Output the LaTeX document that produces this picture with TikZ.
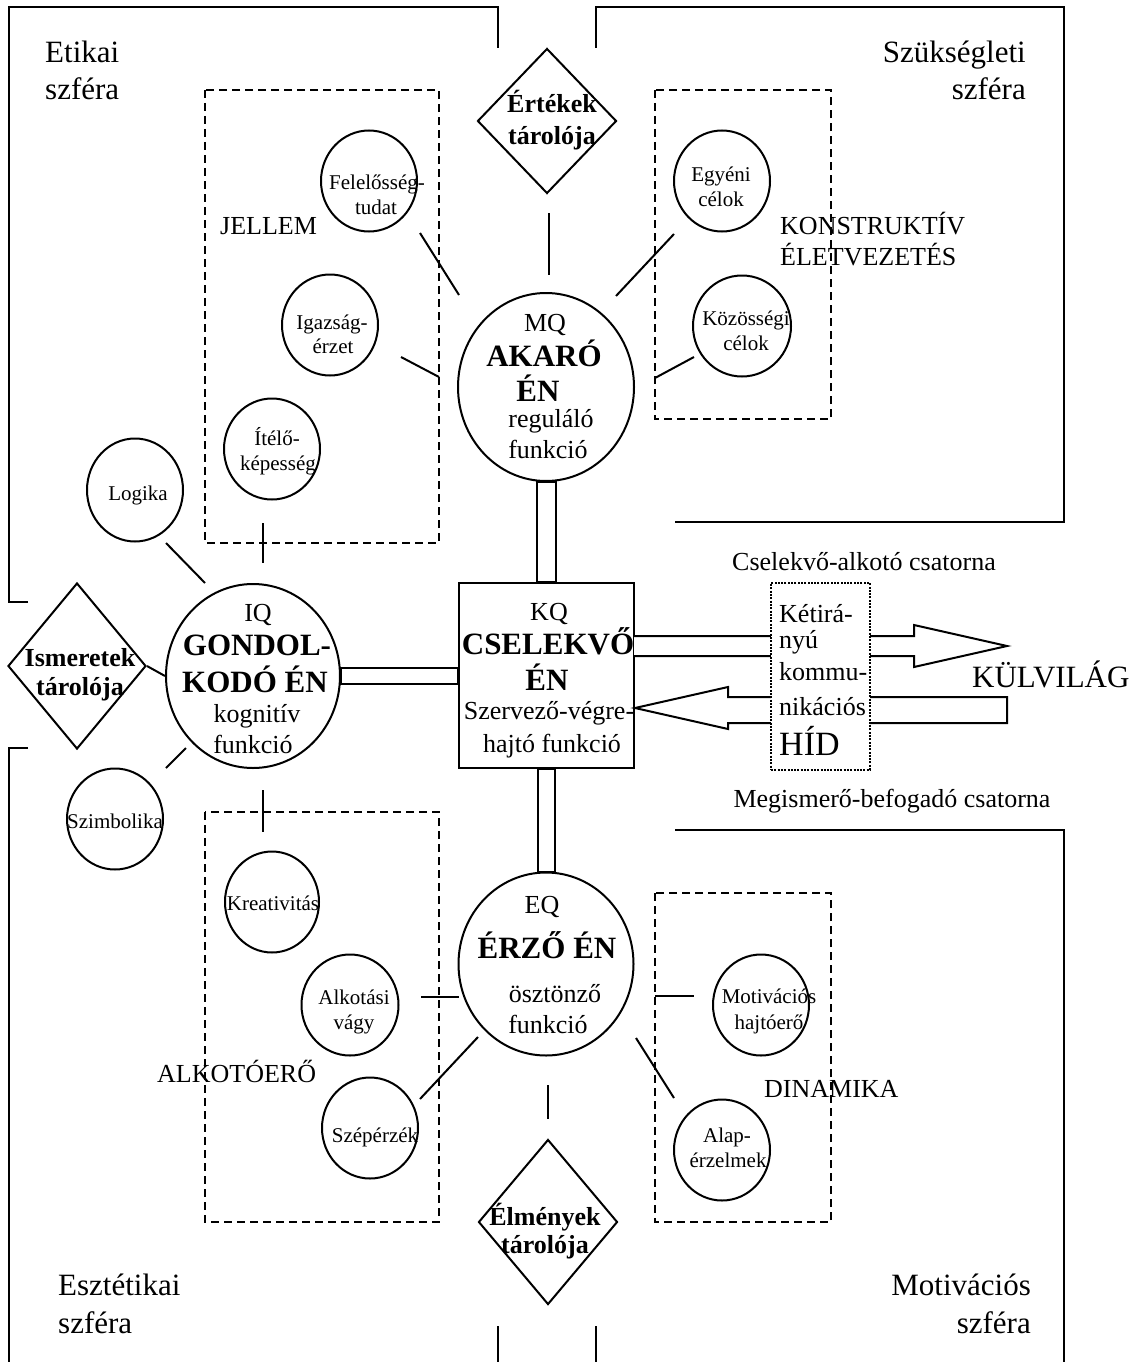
\documentclass[tikz,border=0pt]{standalone}
\usepackage{fontspec}
\setmainfont{Liberation Serif}
\usetikzlibrary{shapes.geometric,calc}
\begin{document}
\begin{tikzpicture}[x=1pt,y=-1pt,
  ln/.style={line width=2pt},
  fr/.style={line width=2.2pt},
  dbox/.style={line width=1.8pt, dash pattern=on 8pt off 5pt},
  bigc/.style={ellipse, draw, line width=2pt, inner sep=0pt},
  smc/.style={ellipse, draw, line width=2pt, inner sep=0pt, minimum width=96pt, minimum height=101pt},
  dia/.style={diamond, draw, line width=2pt, inner sep=0pt},
  tx/.style={anchor=base, inner sep=0pt, font=\fontsize{21}{24}\selectfont},
  md/.style={anchor=base, inner sep=0pt, font=\fontsize{26}{30}\selectfont},
  mdb/.style={anchor=base, inner sep=0pt, font=\fontsize{26}{30}\selectfont\bfseries},
  lg/.style={anchor=base, inner sep=0pt, font=\fontsize{31}{36}\selectfont},
  lgb/.style={anchor=base, inner sep=0pt, font=\fontsize{31}{36}\selectfont\bfseries},
]
\fill[white] (0,0) rectangle (1144,1362);
\useasboundingbox (0,0) rectangle (1144,1362);

% ---------- sphere frames ----------
\draw[fr] (28,602) -- (9,602) -- (9,7) -- (498,7) -- (498,48);
\draw[fr] (596,48) -- (596,7) -- (1064,7) -- (1064,522) -- (675,522);
\draw[fr] (28,748) -- (9,748) -- (9,1362);
\draw[fr] (675,830) -- (1064,830) -- (1064,1362);
\draw[fr] (498,1326) -- (498,1362);
\draw[fr] (596,1326) -- (596,1362);

% ---------- dashed group boxes ----------
\draw[dbox] (205,90) rectangle (439,543);
\draw[dbox] (655,90) rectangle (831,419);
\draw[dbox] (205,812) rectangle (439,1222);
\draw[dbox] (655,893) rectangle (831,1222);

% ---------- diamonds ----------
\node[dia, minimum width=139pt, minimum height=145pt] (ert) at (547,121) {};
\node[dia, minimum width=138pt, minimum height=166pt] (ism) at (77,666) {};
\node[dia, minimum width=139pt, minimum height=165pt] (elm) at (548,1222) {};

% ---------- main selves ----------
\node[bigc, minimum width=176pt, minimum height=188pt] (mq) at (546,387) {};
\node[bigc, minimum width=174pt, minimum height=184pt] (iq) at (253,676) {};
\node[bigc, minimum width=175pt, minimum height=183pt] (eq) at (546,964) {};
\node[draw, line width=2pt, minimum width=175pt, minimum height=185pt, inner sep=0pt] (kq) at (546.5,675.5) {};

% ---------- small circles ----------
\node[smc] (fel) at (369,181) {};
\node[smc] (igaz) at (330,325) {};
\node[smc] (itel) at (272,449) {};
\node[smc, minimum height=103pt] (logika) at (135,490) {};
\node[smc] (egyeni) at (722,181) {};
\node[smc, minimum width=98pt] (kozos) at (742,326) {};
\node[smc] (szimb) at (115,819) {};
\node[smc, minimum width=94pt] (kreat) at (272,902) {};
\node[smc, minimum width=97pt] (alkot) at (350,1005) {};
\node[smc] (szep) at (370,1128) {};
\node[smc] (motiv) at (761,1005) {};
\node[smc] (alap) at (722,1150) {};

% ---------- double connectors ----------
\draw[ln] ($(mq.south)+(-9,0)$) rectangle ($(kq.north)+(9,0)$);
\draw[ln] ($(kq.south)+(-9,0)$) rectangle ($(eq.north)+(9,0)$);
\draw[ln] ($(iq.east)+(0,-8.5)$) rectangle ($(kq.west)+(0,8.5)$);

% ---------- short connector lines ----------
\draw[ln] (ism.east) -- (iq.west);
\coordinate (lg1) at (166,543); \coordinate (lg2) at (205,583);
\coordinate (sz1) at (186,748); \coordinate (sz2) at (166,768);
\coordinate (jv1) at (263,523); \coordinate (jv2) at (263,563);
\coordinate (av1) at (263,790); \coordinate (av2) at (263,832);
\coordinate (fe1) at (420,233); \coordinate (fe2) at (459,295);
\coordinate (ig1) at (401,357); \coordinate (ig2) at (439,377);
\coordinate (er1) at (549,213); \coordinate (er2) at (549,275);
\coordinate (eg1) at (616,296); \coordinate (eg2) at (674,234);
\coordinate (ko1) at (655,378); \coordinate (ko2) at (694,357);
\coordinate (al1) at (421,997); \coordinate (al2) at (459,997);
\coordinate (se1) at (420,1099); \coordinate (se2) at (478,1037);
\coordinate (el1) at (548,1085); \coordinate (el2) at (548,1119);
\coordinate (mo1) at (655,996); \coordinate (mo2) at (694,996);
\coordinate (ap1) at (636,1038); \coordinate (ap2) at (674,1098);
\foreach \a/\b in {lg1/lg2,sz1/sz2,jv1/jv2,av1/av2,fe1/fe2,ig1/ig2,er1/er2,eg1/eg2,ko1/ko2,al1/al2,se1/se2,el1/el2,mo1/mo2,ap1/ap2}
  \draw[ln] (\a) -- (\b);

% ---------- channel arrows ----------
\draw[ln, fill=white] (634,636) -- (914,636) -- (914,625) -- (1007,646) -- (914,667) -- (914,656) -- (634,656);
\draw[ln, fill=white] (1007,697) -- (728,697) -- (728,687) -- (635,708) -- (728,729) -- (728,723) -- (1007,723) -- cycle;
\node[draw, fill=white, line width=2pt, dash pattern=on 2pt off 1.3pt, minimum width=99pt, minimum height=187pt, inner sep=0pt] (hid) at (820.5,676.5) {};

% ---------- sphere labels ----------
\node[lg, anchor=base west] (s1a) at (45,63) {Etikai};
\node[lg, anchor=base west] (s1b) at (45,100) {szféra};
\node[lg, anchor=base east] (s2a) at (1026,63) {Szükségleti};
\node[lg, anchor=base east] (s2b) at (1026,100) {szféra};
\node[lg, anchor=base west] (s3a) at (58,1295) {Esztétikai};
\node[lg, anchor=base west] (s3b) at (58,1333) {szféra};
\node[lg, anchor=base east] (s4a) at (1031,1295) {Motivációs};
\node[lg, anchor=base east] (s4b) at (1031,1333) {szféra};

% ---------- diamond texts ----------
\node[mdb] (ert1) at (552,113) {Értékek};
\node[mdb] (ert2) at (552,145) {tárolója};
\node[mdb] (ism1) at (80,666) {Ismeretek};
\node[mdb] (ism2) at (80,695) {tárolója};
\node[mdb] (elm1) at (545,1225) {Élmények};
\node[mdb] (elm2) at (545,1253) {tárolója};

% ---------- IQ ----------
\node[md]  (iq1) at (258,621) {IQ};
\node[lgb] (iq2) at (257,655) {GONDOL-};
\node[lgb] (iq3) at (255,692) {KODÓ ÉN};
\node[md]  (iq4) at (257,722) {kognitív};
\node[md]  (iq5) at (253,753) {funkció};
% ---------- MQ ----------
\node[md]  (mq1) at (545,331) {MQ};
\node[lgb] (mq2) at (544,366) {AKARÓ};
\node[lgb] (mq3) at (538,401) {ÉN};
\node[md]  (mq4) at (551,427) {reguláló};
\node[md]  (mq5) at (548,458) {funkció};
% ---------- EQ ----------
\node[md]  (eq1) at (542,913) {EQ};
\node[lgb] (eq2) at (547,958) {ÉRZŐ ÉN};
\node[md]  (eq3) at (555,1002) {ösztönző};
\node[md]  (eq4) at (548,1033) {funkció};
% ---------- KQ ----------
\node[md]  (kq1) at (549,620) {KQ};
\node[lgb] (kq2) at (548,654) {CSELEKVŐ};
\node[lgb] (kq3) at (547,690) {ÉN};
\node[md]  (kq4) at (549,719) {Szervező-végre-};
\node[md]  (kq5) at (552,752) {hajtó funkció};

% ---------- bridge ----------
\node[md, anchor=base west] (h1) at (779,622) {Kétirá-};
\node[md, anchor=base west] (h2) at (779,648) {nyú};
\node[md, anchor=base west] (h3) at (779,680) {kommu-};
\node[md, anchor=base west] (h4) at (779,715) {nikációs};
\node[anchor=base west, inner sep=0pt, font=\fontsize{34}{40}\selectfont] (h5) at (779,755) {HÍD};
\node[md] (ch1) at (864,570) {Cselekvő-alkotó csatorna};
\node[md] (ch2) at (892,807) {Megismerő-befogadó csatorna};
\node[lg, anchor=base west] (kulv) at (972,687) {KÜLVILÁG};

% ---------- group labels ----------
\node[md, anchor=base west] (g1) at (220,234) {JELLEM};
\node[md, anchor=base west] (g2a) at (780,234) {KONSTRUKTÍV};
\node[md, anchor=base west] (g2b) at (780,265) {ÉLETVEZETÉS};
\node[md, anchor=base west] (g3) at (157,1082) {ALKOTÓERŐ};
\node[md, anchor=base west] (g4) at (764,1097) {DINAMIKA};

% ---------- small circle texts ----------
\node[tx] (fel1) at (377,189) {Felelősség-};
\node[tx] (fel2) at (376,214) {tudat};
\node[tx] (igaz1) at (332,329) {Igazság-};
\node[tx] (igaz2) at (333,353) {érzet};
\node[tx] (itel1) at (277,445) {Ítélő-};
\node[tx] (itel2) at (278,470) {képesség};
\node[tx] (log1) at (138,500) {Logika};
\node[tx] (egy1) at (721,181) {Egyéni};
\node[tx] (egy2) at (721,206) {célok};
\node[tx] (koz1) at (746,325) {Közösségi};
\node[tx] (koz2) at (746,350) {célok};
\node[tx] (szi1) at (115,828) {Szimbolika};
\node[tx] (kre1) at (273,910) {Kreativitás};
\node[tx] (alk1) at (354,1004) {Alkotási};
\node[tx] (alk2) at (354,1029) {vágy};
\node[tx] (mot1) at (769,1003) {Motivációs};
\node[tx] (mot2) at (769,1029) {hajtóerő};
\node[tx] (sze1) at (375,1142) {Szépérzék};
\node[tx] (ala1) at (727,1142) {Alap-};
\node[tx] (ala2) at (728,1167) {érzelmek};
\end{tikzpicture}
\end{document}
